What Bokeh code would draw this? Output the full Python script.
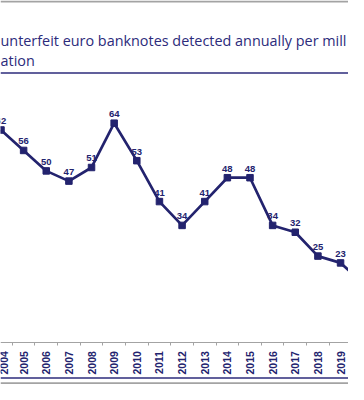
import math
from bokeh.plotting import figure
from bokeh.models import Range1d, LinearAxis, FixedTicker, Span, Label
from bokeh.core.properties import value
from bokeh.embed import file_html
from bokeh.resources import INLINE

# ---- data ----
years = [2004, 2005, 2006, 2007, 2008, 2009, 2010, 2011, 2012,
         2013, 2014, 2015, 2016, 2017, 2018, 2019, 2020]
counterfeits = [62, 56, 50, 47, 51, 64, 53, 41, 34, 41, 48, 48, 34, 32, 25, 23, 17]
year_labels = [str(y) for y in years]
value_labels = [str(v) for v in counterfeits]
title_lines = ["unterfeit euro banknotes detected annually per mill", "ation"]

NAVY = "#23236e"
TITLE = "#2c2b7b"
GRAY = "#a3a3a3"

p = figure(width=348, height=384, output_backend="svg", toolbar_location=None,
           x_range=Range1d(2003.979, 2019.351), y_range=Range1d(-12.68, 100.0),
           x_axis_location=None, y_axis_location=None, min_border=0,
           outline_line_color=None, background_fill_color="white",
           border_fill_color="white")
p.xgrid.visible = False
p.ygrid.visible = False

# x axis with year labels and boundary ticks
xaxis = LinearAxis(
    fixed_location=-0.25,
    ticker=FixedTicker(ticks=years, minor_ticks=[y - 0.5 for y in years]),
    major_label_overrides={y: s for y, s in zip(years, year_labels)},
)
xaxis.major_label_orientation = math.pi / 2
xaxis.major_label_text_font = "Liberation Sans"
xaxis.major_label_text_font_style = "bold"
xaxis.major_label_text_font_size = "10.5px"
xaxis.major_label_text_color = NAVY
xaxis.major_label_standoff = 6
xaxis.axis_line_color = GRAY
xaxis.axis_line_width = 1
xaxis.major_tick_in = 0
xaxis.major_tick_out = 0
xaxis.major_tick_line_color = None
xaxis.minor_tick_in = 0
xaxis.minor_tick_out = 3
xaxis.minor_tick_line_color = GRAY
p.add_layout(xaxis, "below")

# decorative rules
p.add_layout(Span(location=99.7, dimension="width", line_color=GRAY, line_width=2))
p.add_layout(Span(location=78.73, dimension="width", line_color=TITLE, line_width=1.5))
p.add_layout(Span(location=-10.77, dimension="width", line_color=TITLE, line_width=1.5))
p.add_layout(Span(location=-12.32, dimension="width", line_color=GRAY, line_width=2))

# title (cropped, as seen)
for txt, yy in zip(title_lines, [88.26, 82.39]):
    p.add_layout(Label(x=2003.979, y=yy, text=txt, text_font="Open Sans",
                       text_font_size="14.4px", text_color=TITLE,
                       text_baseline="alphabetic", text_align="left"))

# series
p.line(years, counterfeits, line_width=2.7, color=NAVY)
p.scatter(years, counterfeits, marker="square", size=6.5, color=NAVY)
p.text(x=years, y=counterfeits, text=value_labels, text_align="center",
       text_baseline="alphabetic", y_offset=-9,
       text_font=value("Liberation Sans"), text_font_style="bold",
       text_font_size="9.5px", text_color=NAVY)

open("out.html", "w").write(file_html(p, INLINE))
